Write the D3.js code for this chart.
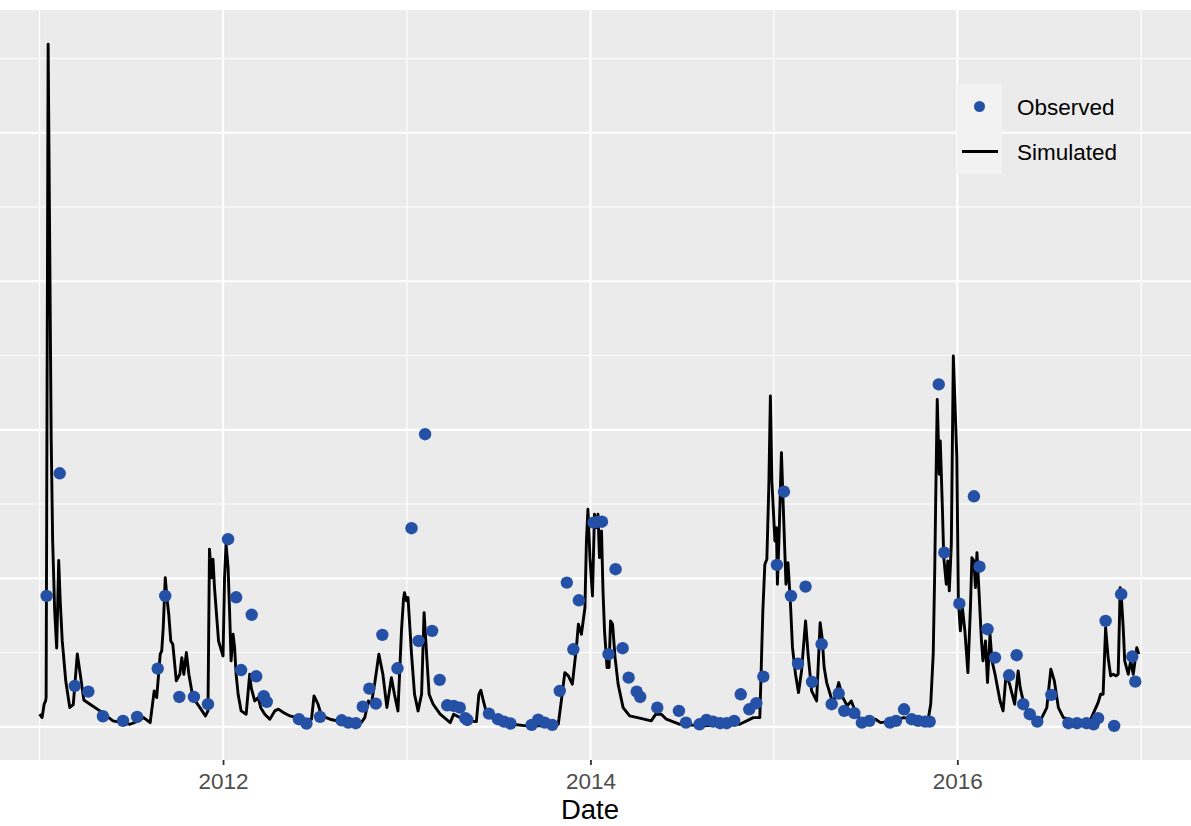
<!DOCTYPE html>
<html>
<head>
<meta charset="utf-8">
<script src="https://cdn.jsdelivr.net/npm/d3@7"></script>
<style>
  body { margin: 0; background: #ffffff; }
  svg text { font-family: "Liberation Sans", Arial, sans-serif; }
</style>
</head>
<body>
<div id="back"></div>
<script>

var observedDates = [
    "2011-01-15","2011-02-10","2011-03-12","2011-04-08","2011-05-07","2011-06-16","2011-07-14","2011-08-24","2011-09-08","2011-10-06","2011-11-04","2011-12-02",
    "2012-01-11","2012-01-27","2012-02-06","2012-02-27","2012-03-07","2012-03-22","2012-03-28","2012-05-31","2012-06-15","2012-07-12","2012-08-24","2012-09-06","2012-09-21","2012-10-05","2012-10-18","2012-10-31","2012-11-13","2012-12-13",
    "2013-01-10","2013-01-24","2013-02-06","2013-02-20","2013-03-07","2013-03-22","2013-04-04","2013-04-16","2013-04-27","2013-05-01","2013-06-13","2013-07-01","2013-07-13","2013-07-26","2013-09-06","2013-09-19","2013-10-02","2013-10-17","2013-11-01","2013-11-15","2013-11-28","2013-12-09",
    "2014-01-07","2014-01-15","2014-01-24","2014-02-06","2014-02-20","2014-03-06","2014-03-18","2014-04-03","2014-04-10","2014-05-14","2014-06-26","2014-07-10","2014-08-06","2014-08-20","2014-09-02","2014-09-16","2014-09-29","2014-10-14","2014-10-27","2014-11-13","2014-11-27","2014-12-11",
    "2015-01-07","2015-01-21","2015-02-04","2015-02-18","2015-03-05","2015-03-18","2015-04-06","2015-04-26","2015-05-10","2015-05-21","2015-06-10","2015-06-25","2015-07-10","2015-08-20","2015-09-01","2015-09-17","2015-10-02","2015-10-15","2015-10-29","2015-11-07","2015-11-25","2015-12-06",
    "2016-01-05","2016-02-03","2016-02-14","2016-03-01","2016-03-16","2016-04-13","2016-04-28","2016-05-11","2016-05-24","2016-06-08","2016-07-06","2016-08-09","2016-08-26","2016-09-14","2016-09-28","2016-10-07","2016-10-22","2016-11-08","2016-11-22","2016-12-14","2016-12-20"
];

var observedValues = [
    8.81,17.07,2.75,2.37,0.71,0.40,0.67,3.92,8.81,2.01,2.01,1.52,
    12.63,8.72,3.82,7.54,3.40,2.06,1.68,0.51,0.22,0.67,0.44,0.28,0.24,1.36,2.57,1.56,6.19,3.94,
    13.37,5.78,19.70,6.46,3.16,1.45,1.41,1.29,0.58,0.46,0.89,0.51,0.35,0.22,0.13,0.48,0.28,0.13,2.42,9.71,5.22,8.52,
    13.75,13.80,13.81,4.89,10.61,5.29,3.31,2.37,2.01,1.29,1.07,0.28,0.17,0.46,0.35,0.24,0.24,0.40,2.19,1.18,1.59,3.38,
    10.90,15.83,8.81,4.25,9.44,3.02,5.56,1.52,2.24,1.07,0.92,0.28,0.40,0.28,0.40,1.18,0.51,0.40,0.35,0.35,23.06,11.73,
    8.29,15.52,10.78,6.57,4.66,3.47,4.82,1.52,0.85,0.35,2.15,0.24,0.24,0.24,0.17,0.58,7.13,0.06,8.93,4.73,3.04
];

// Simulated series, [date, value]
var simulated = [
    ["2011-01-01",0.85],["2011-01-06",0.62],["2011-01-10",1.52],["2011-01-13",1.74],["2011-01-14",2.0],["2011-01-18",45.97],
    ["2011-01-21",33.0],["2011-01-24",19.5],["2011-01-27",12.5],["2011-01-31",7.8],["2011-02-04",5.3],["2011-02-08",11.2],
    ["2011-02-11",8.5],["2011-02-15",5.8],["2011-02-22",3.1],["2011-03-02",1.3],["2011-03-09",1.5],["2011-03-17",4.9],
    ["2011-03-23",3.5],["2011-03-30",1.8],["2011-04-12",1.5],["2011-05-01",1.07],["2011-05-27",0.40],["2011-06-30",0.17],
    ["2011-07-17",0.40],["2011-07-27",0.62],["2011-08-09",0.28],["2011-08-17",2.42],["2011-08-22",1.97],["2011-08-29",4.89],
    ["2011-09-01",5.11],["2011-09-04",6.68],["2011-09-08",10.04],["2011-09-12",8.48],["2011-09-15",7.58],["2011-09-19",5.78],
    ["2011-09-23",5.56],["2011-09-30",3.09],["2011-10-07",3.54],["2011-10-11",4.66],["2011-10-15",3.54],["2011-10-20",5.0],
    ["2011-10-25",3.54],["2011-11-02",1.97],["2011-11-16",1.29],["2011-11-27",0.73],["2011-12-02",1.07],["2011-12-05",11.96],
    ["2011-12-09",10.04],["2011-12-12",11.28],["2011-12-15",9.37],["2011-12-21",6.68],["2011-12-23",5.78],["2012-01-01",4.77],
    ["2012-01-04",10.04],["2012-01-07",12.29],["2012-01-11",10.72],["2012-01-14",7.80],["2012-01-17",4.44],["2012-01-21",6.23],
    ["2012-01-24",5.33],["2012-01-27",3.54],["2012-01-31",2.19],["2012-02-06",1.07],["2012-02-16",0.85],["2012-02-23",3.54],
    ["2012-02-26",2.64],["2012-03-04",1.74],["2012-03-11",1.97],["2012-03-16",1.29],["2012-03-24",0.85],["2012-04-03",0.51],
    ["2012-04-13",1.07],["2012-04-20",1.19],["2012-04-30",0.96],["2012-05-13",0.73],["2012-05-26",0.62],["2012-06-09",0.40],
    ["2012-06-25",0.51],["2012-06-30",2.08],["2012-07-08",1.52],["2012-07-15",0.73],["2012-08-01",0.51],["2012-08-21",0.35],
    ["2012-09-09",0.22],["2012-10-02",0.28],["2012-10-09",0.62],["2012-10-16",1.74],["2012-10-22",1.52],["2012-10-29",2.98],
    ["2012-11-06",4.89],["2012-11-14",3.54],["2012-11-22",1.29],["2012-12-01",3.31],["2012-12-07",2.19],["2012-12-14",1.07],
    ["2012-12-21",6.46],["2012-12-25",8.59],["2012-12-27",9.03],["2012-12-31",8.48],["2013-01-03",8.70],["2013-01-10",4.89],
    ["2013-01-16",2.19],["2013-01-23",1.07],["2013-01-30",2.19],["2013-02-04",7.69],["2013-02-09",4.89],["2013-02-14",2.19],
    ["2013-02-22",1.52],["2013-03-08",0.85],["2013-03-28",0.28],["2013-04-04",0.85],["2013-04-16",0.62],["2013-04-30",0.40],
    ["2013-05-19",0.35],["2013-05-24",2.19],["2013-05-28",2.46],["2013-06-02",1.74],["2013-06-08",0.96],["2013-06-22",0.51],
    ["2013-07-18",0.22],["2013-08-27",0.06],["2013-10-06",0.06],["2013-10-29",0.17],["2013-11-04",1.74],["2013-11-11",3.65],
    ["2013-11-18",3.43],["2013-11-26",2.87],["2013-12-04",5.33],["2013-12-08",6.91],["2013-12-14",6.23],["2013-12-21",8.02],
    ["2013-12-24",12.51],["2013-12-27",14.65],["2013-12-31",11.39],["2014-01-05",8.81],["2014-01-09",14.31],["2014-01-13",13.41],
    ["2014-01-16",14.31],["2014-01-19",11.39],["2014-01-23",13.19],["2014-01-26",9.15],["2014-01-29",6.46],["2014-02-03",3.99],
    ["2014-02-07",3.99],["2014-02-10",7.13],["2014-02-14",6.91],["2014-02-19",4.66],["2014-02-25",2.87],["2014-03-07",1.29],
    ["2014-03-20",0.73],["2014-04-09",0.58],["2014-05-02",0.40],["2014-05-11",0.85],["2014-05-22",0.85],["2014-06-01",0.51],
    ["2014-06-28",0.17],["2014-08-13",0.06],["2014-10-05",0.13],["2014-10-25",0.17],["2014-11-21",0.62],["2014-12-04",0.62],
    ["2014-12-10",7.80],["2014-12-14",10.95],["2014-12-18",11.28],["2014-12-22",16.33],["2014-12-25",22.28],["2014-12-28",16.55],
    ["2015-01-03",12.51],["2015-01-06",13.41],["2015-01-08",9.60],["2015-01-11",12.51],["2015-01-16",18.46],["2015-01-19",15.43],
    ["2015-01-25",9.60],["2015-01-29",11.05],["2015-02-03",8.25],["2015-02-07",5.33],["2015-02-13",3.54],["2015-02-19",2.30],
    ["2015-02-25",3.76],["2015-03-05",7.13],["2015-03-10",4.89],["2015-03-17",2.42],["2015-03-27",1.74],["2015-04-03",7.01],
    ["2015-04-07",5.99],["2015-04-11",3.99],["2015-04-16",2.98],["2015-04-23",2.19],["2015-04-29",1.52],["2015-05-10",2.98],
    ["2015-05-18",1.97],["2015-05-27",1.41],["2015-06-04",1.74],["2015-06-14",0.85],["2015-06-28",0.28],["2015-07-22",0.51],
    ["2015-08-01",0.28],["2015-08-27",0.40],["2015-09-16",0.62],["2015-10-12",0.51],["2015-11-04",0.51],["2015-11-09",1.52],
    ["2015-11-14",4.89],["2015-11-17",10.49],["2015-11-19",15.43],["2015-11-22",22.05],["2015-11-26",17.0],["2015-11-28",19.25],
    ["2015-12-02",14.98],["2015-12-05",11.39],["2015-12-10",9.60],["2015-12-13",11.17],["2015-12-16",9.15],["2015-12-20",12.29],
    ["2015-12-24",24.97],["2015-12-31",18.12],["2016-01-03",8.48],["2016-01-07",6.46],["2016-01-11",8.02],["2016-01-16",6.46],
    ["2016-01-22",3.65],["2016-01-27",8.02],["2016-01-30",11.39],["2016-02-03",11.17],["2016-02-06",9.37],["2016-02-09",11.73],
    ["2016-02-13",9.15],["2016-02-18",5.78],["2016-02-21",4.44],["2016-02-26",5.78],["2016-03-01",2.98],["2016-03-06",6.23],
    ["2016-03-10",4.44],["2016-03-16",3.54],["2016-03-26",1.74],["2016-04-01",1.07],["2016-04-07",3.54],["2016-04-14",2.87],
    ["2016-04-24",1.52],["2016-05-01",3.76],["2016-05-05",2.64],["2016-05-14",1.29],["2016-05-31",0.73],["2016-06-14",0.40],
    ["2016-06-27",1.29],["2016-07-05",3.88],["2016-07-12",3.09],["2016-07-20",1.29],["2016-07-30",0.62],["2016-08-19",0.40],
    ["2016-09-21",0.40],["2016-10-07",1.63],["2016-10-12",2.19],["2016-10-17",2.19],["2016-10-22",6.68],["2016-10-27",4.66],
    ["2016-11-01",3.43],["2016-11-06",3.54],["2016-11-12",3.43],["2016-11-16",3.54],["2016-11-20",9.37],["2016-11-22",8.93],
    ["2016-11-26",6.68],["2016-11-29",4.44],["2016-12-06",3.54],["2016-12-11",4.44],["2016-12-16",3.54],["2016-12-23",5.33],
    ["2016-12-27",4.89]
];

// Axis breaks
var xTickLabels = ["2012","2014","2016"];
var xMinorBreaks = ["2011","2013","2015","2017"];
var yMajorBreaks = [0,10,20,30,40];
var yMinorBreaks = [5,15,25,35,45];

var legendLabels = ["Observed","Simulated"];


var chart = {

    chartSettings : {

        width : 1191,//px
        height : 826,//px

        panelLeft : 0,//px
        panelRight : 1191,//px
        panelTop : 10,//px
        panelBottom : 760,//px

        // where 2011-01-01 and 2017-01-01 fall
        xStart : 39.6,//px
        xEnd : 1141.3,//px

        panelFill : "#EBEBEB",
        gridColor : "#FFFFFF",
        majorWidth : 2.2,
        minorWidth : 1.1,

        pointColor : "#2451A6",
        pointRadius : 6.2,
        lineWidth : 2.9,

        legendX : 957,//px
        legendY : 84,//px
        keySize : 45,//px

        fontSize : 22.5,//px
        titleSize : 27.5,//px
    },

    parseDate : d3.utcParse("%Y-%m-%d"),

    drawChart : function(){

        var s = chart.chartSettings;

        var obs = observedDates.map(function(d, i){
            return {date : chart.parseDate(d), value : observedValues[i]};
        });
        var sim = simulated.map(function(d){
            return {date : chart.parseDate(d[0]), value : d[1]};
        });

        // Scales
        var x = d3.scaleUtc()
            .domain([new Date(Date.UTC(2011,0,1)), new Date(Date.UTC(2017,0,1))])
            .range([s.xStart, s.xEnd]);

        var allValues = observedValues.concat(simulated.map(function(d){ return d[1]; }));
        var ext = d3.extent(allValues);
        var pad = (ext[1] - ext[0]) * 0.05;
        var y = d3.scaleLinear()
            .domain([ext[0] - pad, ext[1] + pad])
            .range([s.panelBottom, s.panelTop]);

        var svg = d3.select("#back")
            .append("svg")
            .attr("width", s.width)
            .attr("height", s.height)
            .attr("style", "display:block;background:#ffffff");

        // Panel background
        svg.append("rect")
            .attr("x", s.panelLeft)
            .attr("y", s.panelTop)
            .attr("width", s.panelRight - s.panelLeft)
            .attr("height", s.panelBottom - s.panelTop)
            .attr("fill", s.panelFill);

        var grid = svg.append("g").attr("class", "grid");

        // Minor grid lines
        grid.selectAll(".yminor")
            .data(yMinorBreaks)
            .enter().append("line")
            .attr("x1", s.panelLeft).attr("x2", s.panelRight)
            .attr("y1", function(d){ return y(d); })
            .attr("y2", function(d){ return y(d); })
            .attr("stroke", s.gridColor)
            .attr("stroke-width", s.minorWidth);

        grid.selectAll(".xminor")
            .data(xMinorBreaks)
            .enter().append("line")
            .attr("x1", function(d){ return x(chart.parseDate(d + "-01-01")); })
            .attr("x2", function(d){ return x(chart.parseDate(d + "-01-01")); })
            .attr("y1", s.panelTop).attr("y2", s.panelBottom)
            .attr("stroke", s.gridColor)
            .attr("stroke-width", s.minorWidth);

        // Major grid lines
        grid.selectAll(".ymajor")
            .data(yMajorBreaks)
            .enter().append("line")
            .attr("x1", s.panelLeft).attr("x2", s.panelRight)
            .attr("y1", function(d){ return y(d); })
            .attr("y2", function(d){ return y(d); })
            .attr("stroke", s.gridColor)
            .attr("stroke-width", s.majorWidth);

        grid.selectAll(".xmajor")
            .data(xTickLabels)
            .enter().append("line")
            .attr("x1", function(d){ return x(chart.parseDate(d + "-01-01")); })
            .attr("x2", function(d){ return x(chart.parseDate(d + "-01-01")); })
            .attr("y1", s.panelTop).attr("y2", s.panelBottom)
            .attr("stroke", s.gridColor)
            .attr("stroke-width", s.majorWidth);

        // Simulated line
        var line = d3.line()
            .x(function(d){ return x(d.date); })
            .y(function(d){ return y(d.value); });

        svg.append("path")
            .datum(sim)
            .attr("d", line)
            .attr("fill", "none")
            .attr("stroke", "#000000")
            .attr("stroke-width", s.lineWidth)
            .attr("stroke-linejoin", "round");

        // Observed points
        svg.append("g")
            .selectAll("circle")
            .data(obs)
            .enter().append("circle")
            .attr("cx", function(d){ return x(d.date); })
            .attr("cy", function(d){ return y(d.value); })
            .attr("r", s.pointRadius)
            .attr("fill", s.pointColor);

        // X axis
        var xAxis = d3.axisBottom(x)
            .tickValues(xTickLabels.map(function(d){ return chart.parseDate(d + "-01-01"); }))
            .tickFormat(d3.utcFormat("%Y"))
            .tickSize(5)
            .tickPadding(8);

        var gx = svg.append("g")
            .attr("transform", "translate(0," + s.panelBottom + ")")
            .call(xAxis);
        gx.select(".domain").remove();
        gx.selectAll(".tick line")
            .attr("stroke", "#333333")
            .attr("stroke-width", 1.8);
        gx.selectAll(".tick text")
            .attr("fill", "#4D4D4D")
            .attr("font-size", s.fontSize)
            .attr("font-family", "Liberation Sans, Arial, sans-serif");

        // Axis title
        svg.append("text")
            .attr("x", 590)
            .attr("y", 819)
            .attr("text-anchor", "middle")
            .attr("font-size", s.titleSize)
            .attr("fill", "#000000")
            .text("Date");

        // Legend
        var legend = svg.append("g")
            .attr("transform", "translate(" + s.legendX + "," + s.legendY + ")");

        legend.selectAll("rect")
            .data(legendLabels)
            .enter().append("rect")
            .attr("x", 0)
            .attr("y", function(d, i){ return i * s.keySize; })
            .attr("width", s.keySize)
            .attr("height", s.keySize)
            .attr("fill", "#F2F2F2");

        legend.append("circle")
            .attr("cx", s.keySize / 2)
            .attr("cy", s.keySize / 2)
            .attr("r", 5.5)
            .attr("fill", s.pointColor);

        legend.append("line")
            .attr("x1", 5).attr("x2", s.keySize - 4)
            .attr("y1", s.keySize * 1.5).attr("y2", s.keySize * 1.5)
            .attr("stroke", "#000000")
            .attr("stroke-width", s.lineWidth);

        legend.selectAll("text")
            .data(legendLabels)
            .enter().append("text")
            .attr("x", 60)
            .attr("y", function(d, i){ return (i + 0.5) * s.keySize; })
            .attr("dy", "0.36em")
            .attr("font-size", s.fontSize)
            .attr("fill", "#000000")
            .text(function(d){ return d; });
    }
};

chart.drawChart();

</script>
</body>
</html>
